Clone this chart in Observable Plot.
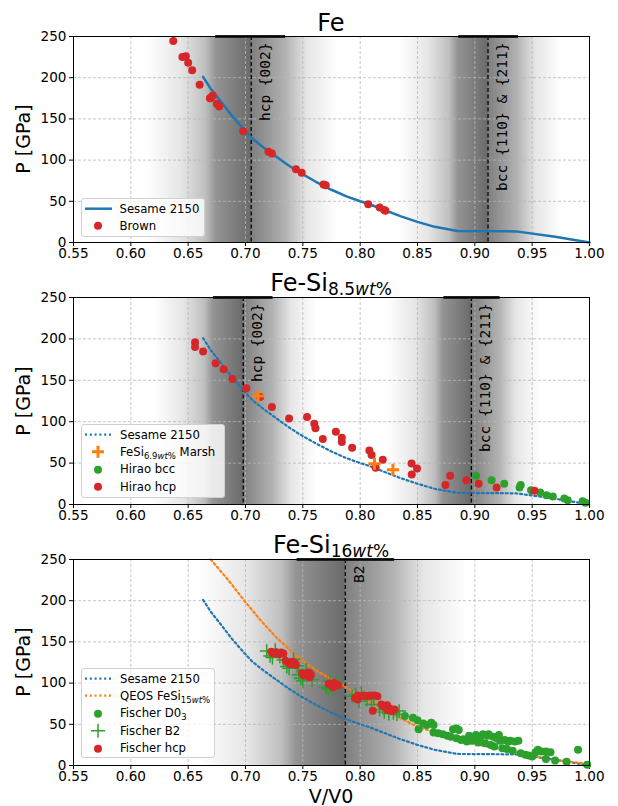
<!DOCTYPE html>
<html><head><meta charset="utf-8">
<script src="https://cdn.jsdelivr.net/npm/d3@7"></script>
<script src="https://cdn.jsdelivr.net/npm/@observablehq/plot@0.6"></script>
<style>
body{margin:0;background:#fff;}
#wrap{position:relative;width:618px;height:806px;font-family:"DejaVu Sans",sans-serif;color:#000;overflow:hidden;}
.abs{position:absolute;}
.title{font-size:24px;white-space:nowrap;transform:translate(-50%,-50%);line-height:normal;}
.title .sub{font-size:17px;position:relative;top:4px;}
.ylab{font-size:19px;white-space:nowrap;transform:translate(-50%,-50%) rotate(-90deg);}
.xlab{font-size:19px;white-space:nowrap;transform:translate(-50%,-50%);line-height:0.95;}
.legend{position:absolute;background:rgba(255,255,255,0.8);border:1px solid #d0d0d0;border-radius:3px;box-sizing:border-box;font-size:11.7px;}
.legend .row{position:relative;height:17.4px;}
.legend .row svg{position:absolute;left:1px;top:0;}
.legend .row .lab{position:absolute;left:38px;top:50%;transform:translateY(-50%);white-space:nowrap;}
.legend .lsub{font-size:8.5px;position:relative;top:3px;}
</style></head>
<body><div id="wrap"></div>
<script>
// ---------- data ----------
const xDomain = [0.55, 1.0];
const yDomain = [0, 250];
const xTicks = [0.55, 0.60, 0.65, 0.70, 0.75, 0.80, 0.85, 0.90, 0.95, 1.00];
const yTicks = [0, 50, 100, 150, 200, 250];

// Sesame 2150 EOS curve (shared by all panels)
const sesameV = [0.663, 0.670, 0.678, 0.688, 0.698, 0.706, 0.716, 0.726, 0.737, 0.747, 0.761, 0.775, 0.788, 0.800, 0.807, 0.820, 0.835, 0.850, 0.865, 0.885, 0.936, 0.970, 1.000];
const sesameP = [201, 186, 172, 154, 138, 126, 115, 105, 94, 85, 74, 64, 56, 50, 47, 40, 32, 25, 19, 14, 13.5, 7, 0];

// Panel 1: Fe, Brown
const brownV = [0.637, 0.645, 0.648, 0.650, 0.6535, 0.660, 0.669, 0.670, 0.6715, 0.675, 0.677, 0.698, 0.720, 0.723, 0.744, 0.749, 0.768, 0.770, 0.807, 0.817, 0.821, 0.822];
const brownP = [244.5, 225, 226, 218, 209, 191.5, 175, 176, 178.5, 168.5, 165, 135, 110, 108, 89, 84.5, 70.5, 69.5, 46.5, 42.5, 39.5, 38.5];

// Panel 2: Fe-Si 8.5wt%
const hiraoHcpV = [0.656, 0.656, 0.663, 0.674, 0.681, 0.6886, 0.7007, 0.7127, 0.723, 0.738, 0.7537, 0.760, 0.761, 0.7674, 0.7788, 0.784, 0.784, 0.793, 0.808, 0.810, 0.8197, 0.8135, 0.8448, 0.8496, 0.845, 0.8744, 0.8785, 0.8926, 0.9033, 0.919, 0.952];
const hiraoHcpP = [196, 190.3, 184.7, 170.6, 163.3, 151.6, 140.3, 129.8, 117.7, 104, 105.6, 97.6, 92, 79, 88, 80.6, 75.4, 68.5, 65.3, 59.7, 54, 44.4, 49.6, 43.5, 36.3, 23.4, 34.7, 29.4, 25, 20.6, 16.5];
const hiraoBccV = [0.901, 0.9146, 0.9256, 0.939, 0.940, 0.949, 0.957, 0.9625, 0.968, 0.978, 0.981, 0.994, 0.9965];
const hiraoBccP = [34.7, 29.4, 25, 20.6, 23.4, 17.3, 14.5, 11.3, 9.7, 7.3, 5.2, 4, 2];
const marshV = [0.711, 0.8125, 0.8286];
const marshP = [131, 49.2, 42];

// Panel 3: Fe-Si 16wt%
const qeosV = [0.6697, 0.685, 0.699, 0.7127, 0.7265, 0.7437, 0.761, 0.787, 0.802, 0.830, 0.850, 0.864, 0.898, 0.933, 0.967, 1.000];
const qeosP = [250, 225, 200, 177, 156, 134, 115.7, 95.5, 83, 61, 47, 40.9, 26.7, 16.6, 7.3, 1.6];
const fischerD03V = [0.839, 0.846, 0.850, 0.851, 0.855, 0.858, 0.862, 0.864, 0.864, 0.868, 0.872, 0.876, 0.879, 0.881, 0.884, 0.886, 0.884, 0.888, 0.890, 0.893, 0.895, 0.897, 0.899, 0.901, 0.903, 0.905, 0.907, 0.909, 0.911, 0.912, 0.914, 0.916, 0.917, 0.919, 0.921, 0.922, 0.924, 0.926, 0.928, 0.929, 0.931, 0.933, 0.935, 0.938, 0.940, 0.944, 0.947, 0.950, 0.953, 0.955, 0.958, 0.962, 0.962, 0.966, 0.970, 0.980, 0.990, 0.998];
const fischerD03P = [60, 58, 55, 44, 51, 49, 52, 49, 40, 39, 38, 36, 35, 44, 45, 43, 33, 31, 32, 29, 36, 30, 34, 37, 28, 35, 38, 27, 36, 38, 25, 35, 23, 33, 37, 30, 21, 31, 20, 29, 30, 18, 29, 30, 15, 13, 12, 11, 16, 19, 17, 8, 17, 16, 6, 4.5, 19, 1];
const fischerB2V = [0.7185, 0.7215, 0.7235, 0.726, 0.730, 0.733, 0.736, 0.738, 0.742, 0.745, 0.748, 0.750, 0.753, 0.758, 0.7465, 0.770, 0.772, 0.775, 0.7735, 0.779, 0.793, 0.796, 0.801, 0.806, 0.810, 0.812, 0.799, 0.817, 0.821, 0.825, 0.829, 0.832, 0.834];
const fischerB2P = [139, 133, 131, 140, 132, 128, 120, 118, 129, 121, 106, 103, 116, 104, 110, 95, 93, 91, 102, 101, 84, 86, 88, 80, 74, 81, 78, 68, 65, 63, 64, 62, 66];
const fischerHcpV = [0.7225, 0.7245, 0.727, 0.729, 0.731, 0.733, 0.735, 0.737, 0.739, 0.741, 0.743, 0.744, 0.7495, 0.751, 0.753, 0.755, 0.757, 0.756, 0.7725, 0.775, 0.777, 0.779, 0.781, 0.7765, 0.7955, 0.7975, 0.800, 0.803, 0.806, 0.809, 0.8125, 0.815, 0.798, 0.811, 0.8185, 0.820, 0.822, 0.824, 0.826, 0.828, 0.830, 0.8235];
const fischerHcpP = [138, 136, 137.5, 135, 137, 136, 127, 125, 123, 126, 124, 122, 112, 109, 111, 113, 110, 107, 99, 97, 100, 98, 97, 95, 82, 80, 84, 85, 84, 85, 85, 84, 85, 66.3, 74, 72, 70, 67, 69, 66, 68, 73];

// Diffraction bands: centre, lower and upper bound, label
const p1BandCenter = [0.705, 0.9115];
const p1BandLo = [0.674, 0.886];
const p1BandHi = [0.735, 0.938];
const p1BandLabel = ["hcp {002}", "bcc {110} & {211}"];
const p2BandCenter = [0.698, 0.897];
const p2BandLo = [0.672, 0.873];
const p2BandHi = [0.724, 0.922];
const p2BandLabel = ["hcp {002}", "bcc {110} & {211}"];
const p3BandCenter = [0.787];
const p3BandLo = [0.745];
const p3BandHi = [0.830];
const p3BandLabel = ["B2"];

// ---------- helpers ----------
const COL = {blue: "#1f77b4", orange: "#ff7f0e", green: "#2ca02c", red: "#d62728"};
const pts = (xs, ys) => xs.map((x, i) => ({x, y: ys[i]}));
const bandsOf = (c, lo, hi, lab) => c.map((v, i) => ({c: v, lo: lo[i], hi: hi[i], h: (hi[i] - lo[i]) / 2, label: lab[i]}));
const GRAD = [[-3, 0], [-2, 0.1], [-1.3, 0.25], [-1, 0.42], [-0.02, 0.58], [0.02, 0.5], [1, 0.3], [1.6, 0.1], [2.5, 0]];
const G0 = -3, G1 = 2.5;
const DOTS = "2,2.8";
const wrap = document.getElementById("wrap");

function place(el, left, top) {
  el.style.position = "absolute"; el.style.left = left + "px"; el.style.top = top + "px";
  wrap.appendChild(el); return el;
}
function html(cls, inner, left, top) {
  const d = document.createElement("div"); d.className = "abs " + cls; d.innerHTML = inner;
  return place(d, left, top);
}

function makePanel(id, top, height, mt, mb, bandList, dataMarks) {
  const bands = bandList.map((b, i) => ({...b, gid: id + "g" + i}));
  const marks = [];
  for (const b of bands) {
    marks.push(Plot.rect([b], {x1: d => d.c + G0 * d.h, x2: d => d.c + G1 * d.h, y1: () => yDomain[0], y2: () => yDomain[1], fill: `url(#${b.gid})`}));
  }
  marks.push(Plot.ruleX(xTicks, {stroke: "#b8b8b8", strokeWidth: 0.8, strokeDasharray: "3,2"}));
  marks.push(Plot.ruleY(yTicks, {stroke: "#b8b8b8", strokeWidth: 0.8, strokeDasharray: "3,2"}));
  marks.push(Plot.ruleX(bands, {x: "c", stroke: "#000", strokeWidth: 1.3, strokeDasharray: "4,2.5"}));
  marks.push(Plot.text(bands, {x: "c", y: () => yDomain[1], text: "label", rotate: -90, textAnchor: "end", dx: 14, dy: 6, fontFamily: "DejaVu Sans Mono", fontSize: 14.5, fill: "#000"}));
  marks.push(...dataMarks);
  marks.push(Plot.ruleY(bands, {y: () => yDomain[1], x1: "lo", x2: "hi", stroke: "#222", strokeWidth: 3}));
  marks.push(Plot.frame({stroke: "#000", strokeWidth: 1}));
  const svg = Plot.plot({
    width: 618, height, marginLeft: 73, marginRight: 29, marginTop: mt, marginBottom: mb,
    x: {domain: xDomain, ticks: xTicks, tickFormat: d3.format(".2f"), tickSize: 4, tickPadding: 2, label: null},
    y: {domain: yDomain, ticks: yTicks, tickSize: 4, tickPadding: 3, label: null},
    style: {fontFamily: "DejaVu Sans", fontSize: "13.6px", color: "#000", background: "transparent", overflow: "visible"},
    marks
  });
  const defs = d3.select(svg).insert("defs", ":first-child");
  for (const b of bands) {
    const lg = defs.append("linearGradient").attr("id", b.gid).attr("x1", "0").attr("x2", "1").attr("y1", "0").attr("y2", "0");
    for (const [o, a] of GRAD) lg.append("stop").attr("offset", ((o - G0) / (G1 - G0)).toFixed(4)).attr("stop-color", "#000").attr("stop-opacity", a);
  }
  place(svg, 0, top);
  return svg;
}

function legend(left, top, width, height, items) {
  const d = document.createElement("div"); d.className = "legend";
  d.style.width = width + "px"; d.style.height = height + "px"; d.style.paddingTop = "1px";
  for (const it of items) {
    const row = document.createElement("div"); row.className = "row";
    let sym = "";
    if (it.kind === "line") sym = `<line x1="2" x2="29" y1="8.7" y2="8.7" stroke="${it.color}" stroke-width="2.5"/>`;
    if (it.kind === "dotted") sym = `<line x1="2" x2="29" y1="8.7" y2="8.7" stroke="${it.color}" stroke-width="2.2" stroke-dasharray="${DOTS}"/>`;
    if (it.kind === "dot") sym = `<circle cx="15" cy="8.7" r="4" fill="${it.color}"/>`;
    if (it.kind === "plus") sym = `<path d="M9,8.7H21M15,2.7V14.7" stroke="${it.color}" stroke-width="3"/>`;
    if (it.kind === "plusThin") sym = `<path d="M8,8.7H22M15,1.7V15.7" stroke="${it.color}" stroke-width="1.5"/>`;
    row.innerHTML = `<svg width="32" height="17.4">${sym}</svg><span class="lab">${it.label}</span>`;
    d.appendChild(row);
  }
  place(d, left, top);
}

// ---------- panel 1 ----------
makePanel("p1", 0, 268, 36, 26, bandsOf(p1BandCenter, p1BandLo, p1BandHi, p1BandLabel), [
  Plot.line(pts(sesameV, sesameP), {x: "x", y: "y", stroke: COL.blue, strokeWidth: 2.5}),
  Plot.dot(pts(brownV, brownP), {x: "x", y: "y", r: 4, fill: COL.red})
]);
html("title", "Fe", 331, 23);
html("ylab", "P [GPa]", 23, 139);
legend(80.5, 198, 124, 39, [
  {kind: "line", color: COL.blue, label: "Sesame 2150"},
  {kind: "dot", color: COL.red, label: "Brown"}
]);

// ---------- panel 2 ----------
makePanel("p2", 268, 262, 29, 26, bandsOf(p2BandCenter, p2BandLo, p2BandHi, p2BandLabel), [
  Plot.line(pts(sesameV, sesameP), {x: "x", y: "y", stroke: COL.blue, strokeWidth: 2.2, strokeDasharray: DOTS}),
  Plot.dot(pts(hiraoBccV, hiraoBccP), {x: "x", y: "y", r: 4, fill: COL.green}),
  Plot.dot(pts(hiraoHcpV, hiraoHcpP), {x: "x", y: "y", r: 4, fill: COL.red}),
  Plot.dot(pts(marshV, marshP), {x: "x", y: "y", symbol: "plus", r: 4, stroke: COL.orange, strokeWidth: 3})
]);
html("title", 'Fe-Si<span class="sub">8.5<i>wt</i>%</span>', 331, 283);
html("ylab", "P [GPa]", 23, 400.5);
legend(81, 424, 144, 74, [
  {kind: "dotted", color: COL.blue, label: "Sesame 2150"},
  {kind: "plus", color: COL.orange, label: 'FeSi<span class="lsub">6.9<i>wt</i>%</span> Marsh'},
  {kind: "dot", color: COL.green, label: "Hirao bcc"},
  {kind: "dot", color: COL.red, label: "Hirao hcp"}
]);

// ---------- panel 3 ----------
makePanel("p3", 530, 276, 29, 41, bandsOf(p3BandCenter, p3BandLo, p3BandHi, p3BandLabel), [
  Plot.line(pts(sesameV, sesameP), {x: "x", y: "y", stroke: COL.blue, strokeWidth: 2.2, strokeDasharray: DOTS}),
  Plot.line(pts(qeosV, qeosP), {x: "x", y: "y", stroke: COL.orange, strokeWidth: 2.2, strokeDasharray: DOTS}),
  Plot.dot(pts(fischerD03V, fischerD03P), {x: "x", y: "y", r: 4, fill: COL.green}),
  Plot.dot(pts(fischerB2V, fischerB2P), {x: "x", y: "y", symbol: "plus", r: 4.5, stroke: COL.green, strokeWidth: 1.5}),
  Plot.dot(pts(fischerHcpV, fischerHcpP), {x: "x", y: "y", r: 4, fill: COL.red})
]);
html("title", 'Fe-Si<span class="sub">16<i>wt</i>%</span>', 331, 545);
html("ylab", "P [GPa]", 23, 662);
html("xlab", "V/V0", 331, 796);
legend(81, 668, 134, 90, [
  {kind: "dotted", color: COL.blue, label: "Sesame 2150"},
  {kind: "dotted", color: COL.orange, label: 'QEOS FeSi<span class="lsub">15<i>wt</i>%</span>'},
  {kind: "dot", color: COL.green, label: 'Fischer D0<span class="lsub">3</span>'},
  {kind: "plusThin", color: COL.green, label: "Fischer B2"},
  {kind: "dot", color: COL.red, label: "Fischer hcp"}
]);
</script>
</body></html>
